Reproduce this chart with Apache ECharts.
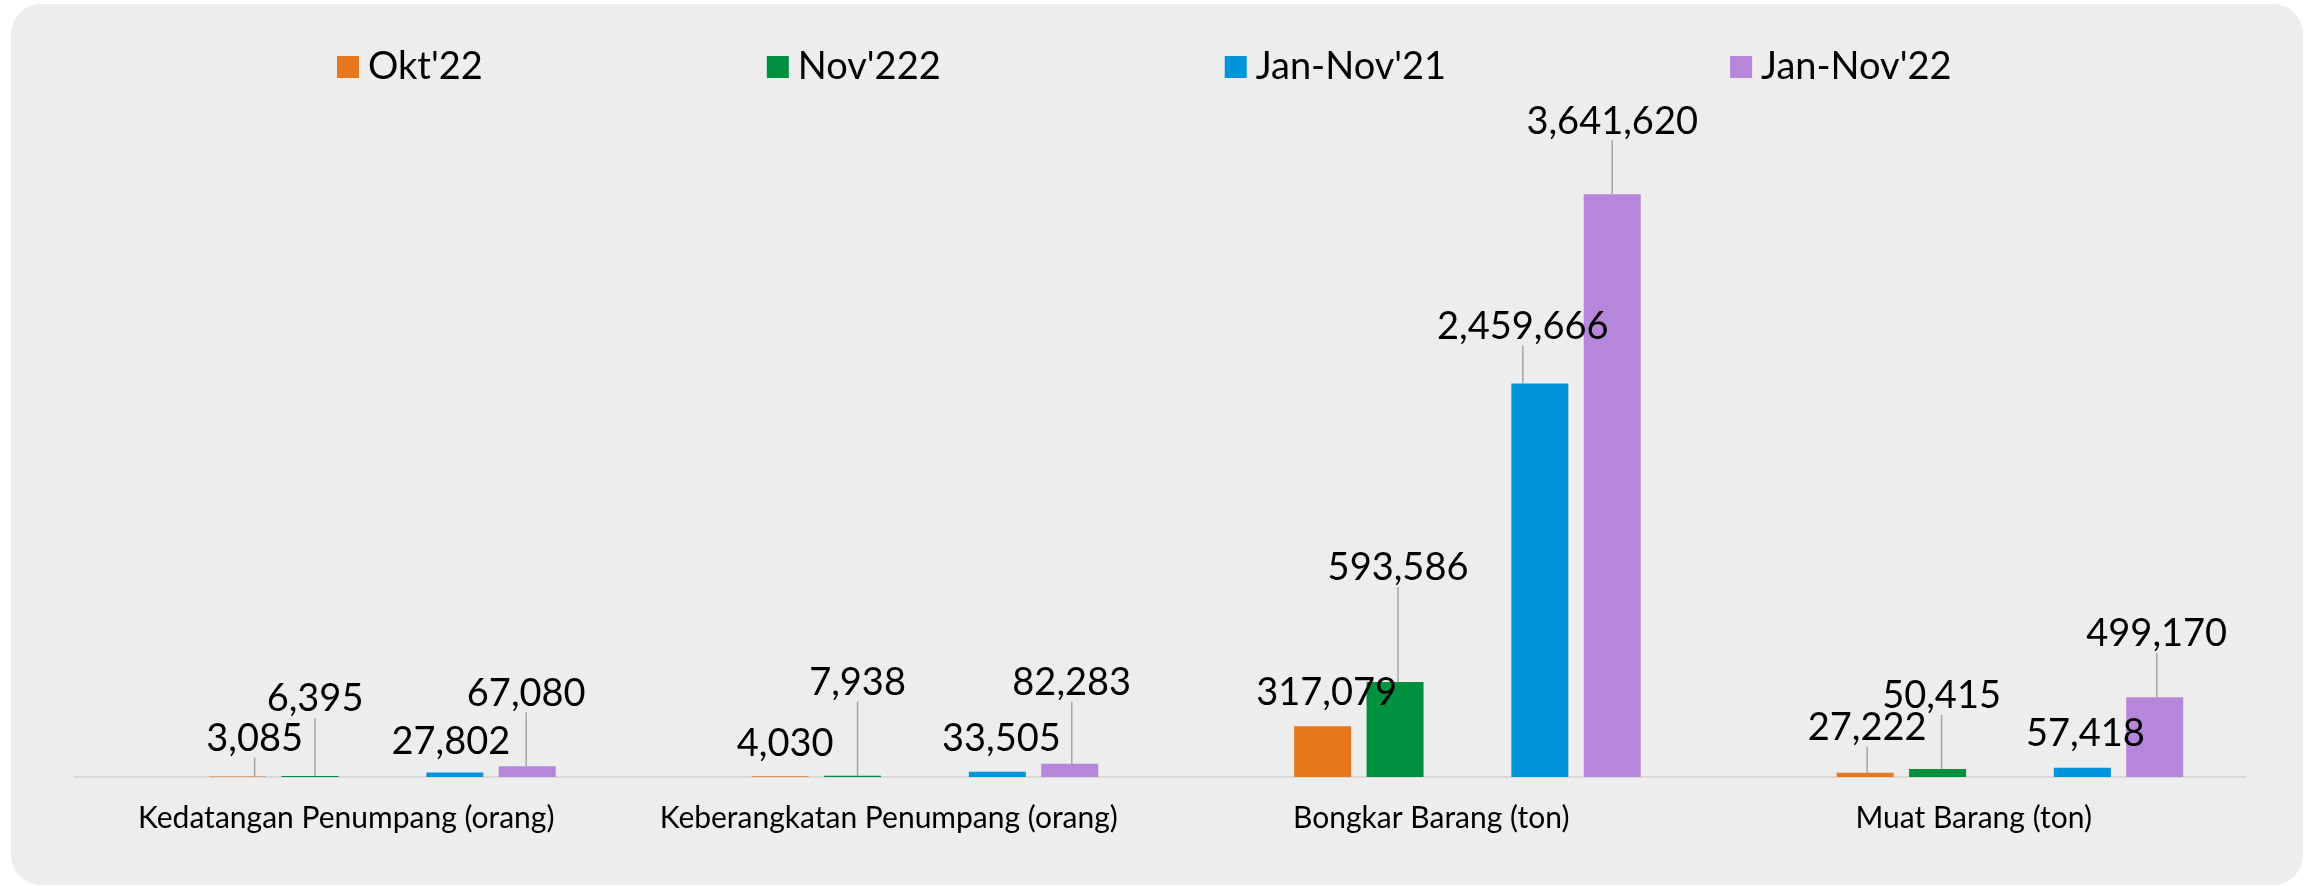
<!DOCTYPE html>
<html>
<head>
<meta charset="utf-8">
<script src="https://cdn.jsdelivr.net/npm/echarts@6/dist/echarts.min.js"></script>
<style>
  html, body { margin: 0; padding: 0; background: #ffffff; }
  #main { width: 2304px; height: 886px; }
</style>
</head>
<body>
<div id="main"></div>
<script>
// categories and values
var categories = ['Kedatangan Penumpang (orang)', 'Keberangkatan Penumpang (orang)', 'Bongkar Barang (ton)', 'Muat Barang (ton)'];
var okt22 = [3085, 4030, 317079, 27222];
var nov22 = [6395, 7938, 593586, 50415];
var janNov21 = [27802, 33505, 2459666, 57418];
var janNov22 = [67080, 82283, 3641620, 499170];

// where each value label sits, relative to the top centre of its bar, and whether it has a leader line
var offOkt = [[17, -41], [5, -36], [4, -37], [2, -48]];
var offNov = [[5, -80], [5, -96], [3, -117], [4, -76]];
var offJ21 = [[-4, -34], [4, -36], [-17, -60], [3, -37]];
var offJ22 = [[-1, -76], [2, -84], [0, -76], [2, -66]];
var leadOkt = [true, false, false, true];
var leadNov = [true, true, true, true];
var leadJ21 = [false, false, true, false];
var leadJ22 = [true, true, true, true];

var FONT = 'Lato';

function mkData(vals, lead) {
    return vals.map(function(v, i) {
        return { value: v, labelLine: { show: lead[i] } };
    });
}

function mkSeries(name, color, vals, offs, lead) {
    return {
        name: name,
        type: 'bar',
        barWidth: 57,
        barGap: '27%',
        itemStyle: { color: color },
        data: mkData(vals, lead),
        label: {
            show: true,
            position: 'top',
            color: '#000',
            fontFamily: FONT,
            fontSize: 38,
            padding: [0, 0, 6, 0],
            formatter: function(p) { return p.value.toLocaleString('en-US'); }
        },
        labelLine: {
            show: true,
            lineStyle: { color: '#a6a6a6', width: 1.5 }
        },
        labelLayout: function(p) {
            var o = offs[p.dataIndex];
            var top = Math.min(p.rect.y, p.rect.y + p.rect.height);
            return {
                x: p.rect.x + p.rect.width / 2 + o[0],
                y: top + o[1] + 3,
                align: 'center',
                verticalAlign: 'middle'
            };
        }
    };
}

function blank(name) {
    return { name: name, type: 'bar', barWidth: 57, barGap: '27%', data: [null, null, null, null] };
}

var myChart = echarts.init(document.getElementById('main'));
var option = {
    backgroundColor: 'transparent',
    animation: false,
    graphic: [{
        type: 'rect',
        z: -10,
        silent: true,
        shape: { x: 11, y: 4, width: 2292, height: 881, r: 30 },
        style: { fill: '#ededed' }
    }],
    legend: {
        data: ["Okt'22", "Nov'222", "Jan-Nov'21", "Jan-Nov'22"],
        left: 332,
        top: 40,
        itemWidth: 22,
        itemHeight: 22,
        itemGap: 284,
        icon: 'rect',
        textStyle: { color: '#000', fontFamily: FONT, fontSize: 38, lineHeight: 44, padding: [0, 0, 0, 4] }
    },
    grid: { left: 75, right: 59, top: 137, bottom: 109 },
    xAxis: {
        type: 'category',
        data: categories,
        axisTick: { show: false },
        axisLine: { lineStyle: { color: '#d9d9d9', width: 2 } },
        axisLabel: { color: '#000', fontFamily: FONT, fontSize: 30, margin: 26, interval: 0, hideOverlap: false }
    },
    yAxis: {
        type: 'value',
        min: 0,
        max: 4000000,
        show: false,
        splitLine: { show: false }
    },
    series: [
        blank('b1'),
        mkSeries("Okt'22", '#e8781e', okt22, offOkt, leadOkt),
        mkSeries("Nov'222", '#009140', nov22, offNov, leadNov),
        blank('b2'),
        mkSeries("Jan-Nov'21", '#0094db', janNov21, offJ21, leadJ21),
        mkSeries("Jan-Nov'22", '#b586d9', janNov22, offJ22, leadJ22)
    ]
};
myChart.setOption(option);
</script>
</body>
</html>
